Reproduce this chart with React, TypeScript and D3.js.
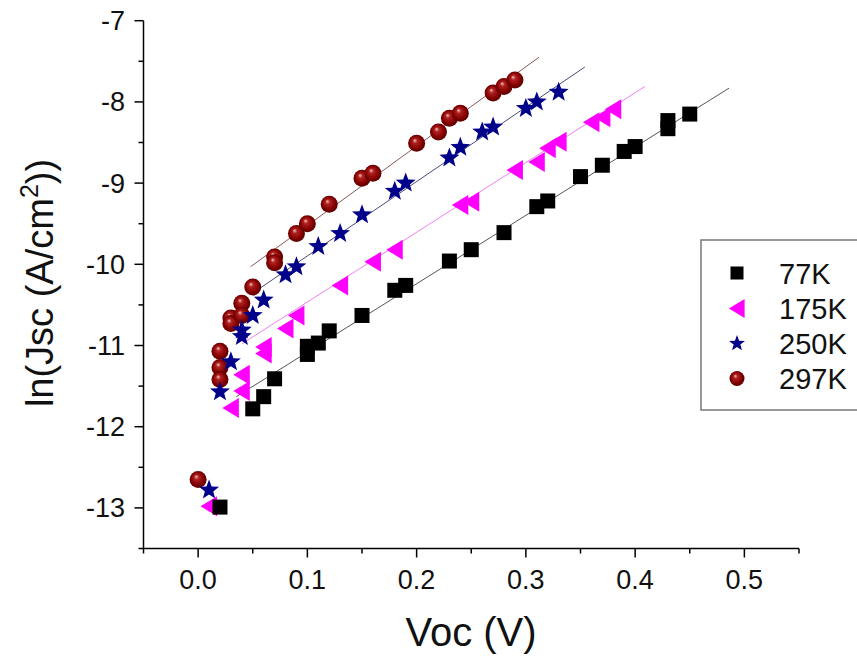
import React from "react";
import * as d3 from "d3";

// ---- data ----
const seriesNames = ["77K", "175K", "250K", "297K"];

const voc77: number[] = [0.02, 0.05, 0.06, 0.07, 0.10, 0.10, 0.11, 0.12, 0.15, 0.18, 0.19, 0.23, 0.25, 0.28, 0.31, 0.32, 0.35, 0.37, 0.39, 0.40, 0.43, 0.43, 0.45];
const lnj77: number[] = [-12.99, -11.78, -11.63, -11.41, -11.11, -11.01, -10.97, -10.82, -10.63, -10.32, -10.26, -9.96, -9.82, -9.61, -9.29, -9.22, -8.92, -8.78, -8.61, -8.55, -8.33, -8.23, -8.15];

const voc175: number[] = [0.01, 0.03, 0.04, 0.04, 0.06, 0.06, 0.08, 0.09, 0.13, 0.16, 0.18, 0.24, 0.25, 0.29, 0.31, 0.32, 0.33, 0.36, 0.37, 0.38];
const lnj175: number[] = [-12.98, -11.77, -11.56, -11.36, -11.10, -11.02, -10.79, -10.63, -10.26, -9.97, -9.82, -9.27, -9.23, -8.84, -8.74, -8.57, -8.49, -8.25, -8.19, -8.09];

const voc250: number[] = [0.01, 0.02, 0.03, 0.04, 0.04, 0.05, 0.06, 0.08, 0.09, 0.11, 0.13, 0.15, 0.18, 0.19, 0.23, 0.24, 0.26, 0.27, 0.30, 0.31, 0.33];
const lnj250: number[] = [-12.78, -11.57, -11.20, -10.89, -10.81, -10.63, -10.44, -10.13, -10.03, -9.78, -9.62, -9.39, -9.10, -9.00, -8.69, -8.56, -8.37, -8.31, -8.08, -8.00, -7.88];

const voc297: number[] = [0.0, 0.02, 0.02, 0.02, 0.03, 0.03, 0.04, 0.04, 0.05, 0.07, 0.07, 0.09, 0.10, 0.12, 0.15, 0.16, 0.20, 0.22, 0.23, 0.24, 0.27, 0.28, 0.29];
const lnj297: number[] = [-12.65, -11.07, -11.27, -11.42, -10.66, -10.73, -10.48, -10.63, -10.28, -9.91, -9.98, -9.62, -9.50, -9.26, -8.94, -8.88, -8.51, -8.37, -8.20, -8.14, -7.89, -7.81, -7.73];

// fit line end points [voc, lnJ] per series
const fit77: [number, number][] = [[0.035, -11.63], [0.486, -7.83]];
const fit175: [number, number][] = [[0.04, -10.98], [0.409, -7.81]];
const fit250: [number, number][] = [[0.056, -10.30], [0.354, -7.57]];
const fit297: [number, number][] = [[0.048, -10.03], [0.312, -7.45]];

const xTicks = [0.0, 0.1, 0.2, 0.3, 0.4, 0.5];
const xMinor = [-0.05, 0.05, 0.15, 0.25, 0.35, 0.45, 0.55];
const yTicks = [-13, -12, -11, -10, -9, -8, -7];
const yMinor = [-13.5, -12.5, -11.5, -10.5, -9.5, -8.5, -7.5];

const W = 857;
const H = 658;
const FONT = "'Liberation Sans', Arial, Helvetica, sans-serif";

const x = d3.scaleLinear().domain([-0.05, 0.55]).range([143.5, 799]);
const y = d3.scaleLinear().domain([-13.5, -7]).range([548.5, 20.7]);

function starPath(ro: number, ri: number): string {
  const pts: [number, number][] = [];
  for (let i = 0; i < 10; i++) {
    const r = i % 2 === 0 ? ro : ri;
    const a = -Math.PI / 2 + (i * Math.PI) / 5;
    pts.push([r * Math.cos(a), r * Math.sin(a)]);
  }
  return d3.line()(pts)! + "Z";
}
const STAR = starPath(10.5, 4.4);
const TRI = "M-8.5,0L8,-10L8,10Z";

function Square({ cx, cy, s = 15 }: { cx: number; cy: number; s?: number }) {
  return <rect x={cx - s / 2} y={cy - s / 2} width={s} height={s} fill="#000" />;
}
function Tri({ cx, cy, k = 1 }: { cx: number; cy: number; k?: number }) {
  return <path d={TRI} transform={`translate(${cx},${cy}) scale(${k})`} fill="#ff00ff" />;
}
function Star({ cx, cy, k = 1 }: { cx: number; cy: number; k?: number }) {
  return <path d={STAR} transform={`translate(${cx},${cy}) scale(${k})`} fill="#00008b" />;
}
function Ball({ cx, cy, r = 8.5 }: { cx: number; cy: number; r?: number }) {
  return <circle cx={cx} cy={cy} r={r} fill="url(#ballGrad)" />;
}

export default function App() {
  const lineGen = d3.line<[number, number]>().x((d) => x(d[0])).y((d) => y(d[1]));
  const fits: { pts: [number, number][]; color: string }[] = [
    { pts: fit77, color: "#555555" },
    { pts: fit175, color: "#f080f0" },
    { pts: fit250, color: "#4a4a80" },
    { pts: fit297, color: "#8a5a5a" },
  ];
  const legendRows = [273, 308.5, 343.5, 378.5];

  return (
    <svg width={W} height={H} style={{ position: "absolute", left: 0, top: 0, background: "#fff" }}>
      <defs>
        <radialGradient id="ballGrad" cx="0.5" cy="0.5" r="0.55" fx="0.38" fy="0.32">
          <stop offset="0" stopColor="#f0c8c0" />
          <stop offset="0.25" stopColor="#b02020" />
          <stop offset="0.7" stopColor="#800000" />
          <stop offset="1" stopColor="#500000" />
        </radialGradient>
      </defs>
      <rect x={0} y={0} width={W} height={H} fill="#fff" />

      {/* axes */}
      <g stroke="#000" strokeWidth={1.5} fill="none">
        <line x1={x(-0.05)} x2={x(0.55)} y1={y(-13.5)} y2={y(-13.5)} />
        <line x1={x(-0.05)} x2={x(-0.05)} y1={y(-13.5)} y2={y(-7)} />
        {xTicks.map((t) => (
          <line key={"xt" + t} x1={x(t)} x2={x(t)} y1={y(-13.5)} y2={y(-13.5) + 9} />
        ))}
        {xMinor.map((t) => (
          <line key={"xm" + t} x1={x(t)} x2={x(t)} y1={y(-13.5)} y2={y(-13.5) + 5} />
        ))}
        {yTicks.map((t) => (
          <line key={"yt" + t} x1={x(-0.05) - 9} x2={x(-0.05)} y1={y(t)} y2={y(t)} />
        ))}
        {yMinor.map((t) => (
          <line key={"ym" + t} x1={x(-0.05) - 5} x2={x(-0.05)} y1={y(t)} y2={y(t)} />
        ))}
      </g>
      <g fontFamily={FONT} fontSize={27} fill="#111">
        {xTicks.map((t) => (
          <text key={"xl" + t} x={x(t)} y={589} textAnchor="middle">
            {d3.format(".1f")(t)}
          </text>
        ))}
        {yTicks.map((t) => (
          <text key={"yl" + t} x={125} y={y(t) + 9.5} textAnchor="end">
            {t}
          </text>
        ))}
      </g>
      <text x={471} y={646} textAnchor="middle" fontFamily={FONT} fontSize={40} fill="#111">
        Voc (V)
      </text>
      <text
        transform="translate(53,283) rotate(-90)"
        textAnchor="middle"
        fontFamily={FONT}
        fontSize={38}
        fill="#111"
      >
        ln(Jsc (A/cm<tspan dy={-15} fontSize={25}>2</tspan>
        <tspan dy={15}>))</tspan>
      </text>

      {/* fit lines */}
      {fits.map((f, i) => (
        <path key={"f" + i} d={lineGen(f.pts)!} stroke={f.color} strokeWidth={1} fill="none" />
      ))}

      {/* scatter, drawn 297K first so cooler series sit on top */}
      <g>
        {voc297.map((v, i) => (
          <Ball key={"b" + i} cx={x(v)} cy={y(lnj297[i])} />
        ))}
        {voc250.map((v, i) => (
          <Star key={"s" + i} cx={x(v)} cy={y(lnj250[i])} />
        ))}
        {voc175.map((v, i) => (
          <Tri key={"t" + i} cx={x(v)} cy={y(lnj175[i])} />
        ))}
        {voc77.map((v, i) => (
          <Square key={"q" + i} cx={x(v)} cy={y(lnj77[i])} />
        ))}
      </g>

      {/* legend */}
      <rect x={701} y={240} width={180} height={170} fill="#fff" stroke="#777" strokeWidth={1.5} />
      <Square cx={737} cy={legendRows[0]} s={13} />
      <Tri cx={737} cy={legendRows[1]} k={0.95} />
      <Star cx={737} cy={legendRows[2]} k={0.8} />
      <Ball cx={737} cy={legendRows[3]} r={7.5} />
      <g fontFamily={FONT} fontSize={29} fill="#111">
        {seriesNames.map((n, i) => (
          <text key={n} x={779} y={legendRows[i] + 10.5}>
            {n}
          </text>
        ))}
      </g>
    </svg>
  );
}
